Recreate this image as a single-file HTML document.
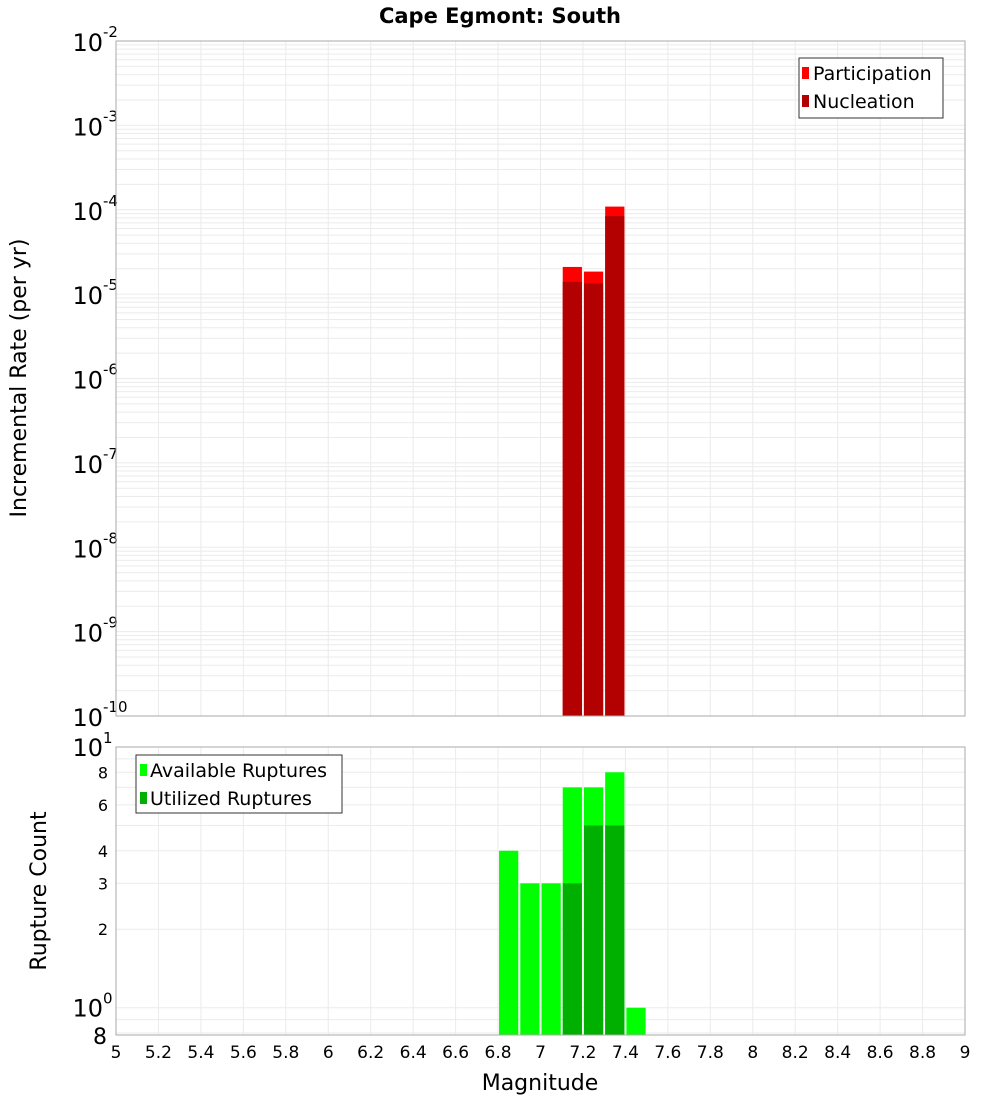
<!DOCTYPE html>
<html><head><meta charset="utf-8"><style>
body{margin:0;background:#fff;font-family:"Liberation Sans","DejaVu Sans",sans-serif}
svg text{font-family:"DejaVu Sans","Liberation Sans",sans-serif}
</style></head><body>
<svg id="chart" width="1000" height="1100" xmlns="http://www.w3.org/2000/svg">
<text x="500" y="23" text-anchor="middle" font-size="21" font-weight="bold">Cape Egmont: South</text>
<g id="topgrp"></g><g id="botgrp"></g>
<text transform="translate(26,378) rotate(-90)" text-anchor="middle" font-size="22">Incremental Rate (per yr)</text>
<text transform="translate(46,891) rotate(-90)" text-anchor="middle" font-size="22">Rupture Count</text>
<text x="540" y="1090" text-anchor="middle" font-size="22">Magnitude</text>
<g>
<rect x="799" y="58" width="144" height="60" fill="#fff" stroke="#333"/>
<rect x="802" y="67" width="7" height="12" fill="#ff0000"/>
<text x="813" y="80" font-size="19">Participation</text>
<rect x="802" y="95" width="7" height="12" fill="#b30000"/>
<text x="813" y="108" font-size="19">Nucleation</text>
</g>
<g>
<rect x="136" y="755" width="206" height="58" fill="#fff" stroke="#333"/>
<rect x="140" y="764" width="7" height="12" fill="#00ff00"/>
<text x="150" y="777" font-size="19">Available Ruptures</text>
<rect x="140" y="792" width="7" height="12" fill="#00b000"/>
<text x="150" y="805" font-size="19">Utilized Ruptures</text>
</g>
</svg>
<script>
const binStarts=[7.1,7.2,7.3];
const participation=[2.1e-5,1.85e-5,1.09e-4];
const nucleation=[1.4e-5,1.34e-5,8.4e-5];
const countBins=[6.8,6.9,7.0,7.1,7.2,7.3,7.4];
const available=[4,3,3,7,7,8,1];
const utilized=[0,0,0,3,5,5,0];
const xTicks=[5,5.2,5.4,5.6,5.8,6,6.2,6.4,6.6,6.8,7,7.2,7.4,7.6,7.8,8,8.2,8.4,8.6,8.8,9];
const topDecades=[-10,-9,-8,-7,-6,-5,-4,-3,-2];
const botTicks=[2,3,4,6,8];

const NS="http://www.w3.org/2000/svg";
const L=116,R=965;
const X=m=>L+(m-5)/4*(R-L);
const T0=716,T1=41;
const YT=v=>T0-(Math.log10(v)+10)/8*(T0-T1);
const B0=1035,B1=747;
const bMin=Math.log10(0.786),bMax=1;
const YB=v=>B0-(Math.log10(v)-bMin)/(bMax-bMin)*(B0-B1);
function el(p,tag,a){const e=document.createElementNS(NS,tag);for(const k in a)e.setAttribute(k,a[k]);p.appendChild(e);return e;}
const topG=document.getElementById('topgrp'),botG=document.getElementById('botgrp');
const grid='#ebebeb';
for(let d=-10;d<-2;d++)for(let k=1;k<10;k++){const y=YT(k*Math.pow(10,d));const g=el(topG,'line',{x1:L,x2:R,y1:y,y2:y,stroke:grid});

}
xTicks.forEach(m=>{const g=el(topG,'line',{x1:X(m),x2:X(m),y1:T1,y2:T0,stroke:grid});


const g2=el(botG,'line',{x1:X(m),x2:X(m),y1:B1,y2:B0,stroke:grid});


const t=el(botG,'text',{x:X(m),y:1058,'text-anchor':'middle','font-size':17});
t.textContent=String(m);

});
[0.8,0.9,1,2,3,4,5,6,7,8,9,10].forEach(v=>{const y=YB(v);const g=el(botG,'line',{x1:L,x2:R,y1:y,y2:y,stroke:grid});

});
binStarts.forEach((m,i)=>{const x=X(m)+1,w=X(m+0.1)-X(m)-2;
const p=el(topG,'rect',{x:x,y:YT(participation[i]),width:w,height:T0-YT(participation[i]),fill:'#ff0000'});


const n=el(topG,'rect',{x:x,y:YT(nucleation[i]),width:w,height:T0-YT(nucleation[i]),fill:'#b30000'});

});
topDecades.forEach(d=>{const y=YT(Math.pow(10,d));const t=el(topG,'text',{x:103,y:y+10,'text-anchor':'end','font-size':24});
t.textContent='10';


const s=el(topG,'text',{x:103,y:y-4,'font-size':15});s.textContent=String(d);

});
const f1=el(topG,'rect',{x:L,y:T1,width:R-L,height:T0-T1,fill:'none',stroke:'#aaa'});


countBins.forEach((m,i)=>{const x=X(m)+1,w=X(m+0.1)-X(m)-2;
const a=el(botG,'rect',{x:x,y:YB(available[i]),width:w,height:B0-YB(available[i]),fill:'#00ff00'});


if(utilized[i]>0){const u=el(botG,'rect',{x:x,y:YB(utilized[i]),width:w,height:B0-YB(utilized[i]),fill:'#00b000'});

}});
botTicks.forEach(v=>{const t=el(botG,'text',{x:108,y:YB(v)+6,'text-anchor':'end','font-size':16});t.textContent=String(v);

});
[[10,'1'],[1,'0']].forEach(([v,e])=>{const y=YB(v);const t=el(botG,'text',{x:103,y:y+9,'text-anchor':'end','font-size':24});t.textContent='10';


const s=el(botG,'text',{x:103,y:y-4,'font-size':15});s.textContent=e;

});
const e8=el(botG,'text',{x:107,y:1044,'text-anchor':'end','font-size':22});e8.textContent='8';


const f2=el(botG,'rect',{x:L,y:B1,width:R-L,height:B0-B1,fill:'none',stroke:'#aaa'});


</script>
</body></html>
